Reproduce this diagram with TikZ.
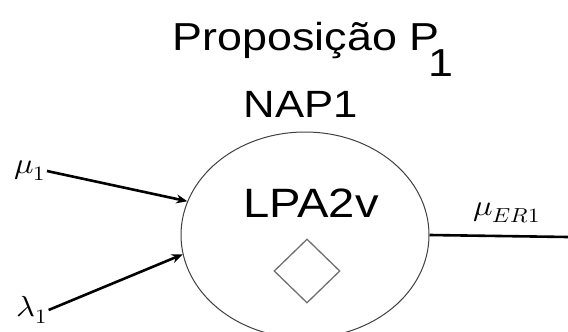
\documentclass[tikz,border=0pt]{standalone}
\usepackage{graphicx}
\usepackage{fontspec}
\usepackage{unicode-math}
\setmainfont{Liberation Sans}[FakeStretch=1.15]
\setmathfont{Latin Modern Math}
\usetikzlibrary{shapes.geometric,arrows.meta}
\definecolor{edgegray}{HTML}{404040}
\definecolor{diagray}{HTML}{707070}
\newcommand{\wideM}[1]{\scalebox{1.12}[1]{$#1$}}
\tikzset{
  txt/.style={inner sep=0pt, anchor=base},
  mlabel/.style={inner sep=1pt, font=\fontsize{29}{34}\selectfont},
  inarrow/.style={line width=2.6pt, -{Stealth[length=11pt,width=9pt]}},
}
\begin{document}
\begin{tikzpicture}[x=1pt,y=-1pt]
\useasboundingbox (0,0) rectangle (568,332);
% title
\node[txt, font=\fontsize{39}{44}\selectfont] (title) at (313,50) {Proposição P\hspace{-11pt}\raisebox{-26pt}{1}};
\node[txt, font=\fontsize{38}{44}\selectfont] (nap) at (301,117) {NAP1};
% neuron
\node[ellipse, draw=edgegray, line width=1pt, minimum width=248pt, minimum height=206pt, inner sep=0pt] (e) at (305,235) {};
\node[txt, font=\fontsize{41}{46}\selectfont] (lpa) at (311,217) {LPA2v};
\node[diamond, draw=diagray, line width=1.3pt, minimum width=66pt, minimum height=64pt, inner sep=0pt] (d) at (307,271) {};
% inputs
\node[mlabel] (mu) at (30,171) {\wideM{\mu_1}};
\node[mlabel] (lam) at (32,310) {\wideM{\lambda_1}};
\draw[inarrow] (mu.east) -- (e.164);
\draw[inarrow] (lam.east) -- (e.189);
% output
\coordinate (out) at (568,237);
\draw[line width=2.6pt] (e.east) -- (out);
\node[mlabel] (muer) at (507,213) {\wideM{\mu_{ER1}}};
\end{tikzpicture}
\end{document}
